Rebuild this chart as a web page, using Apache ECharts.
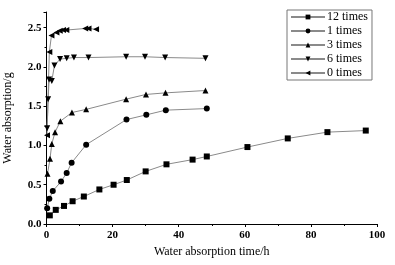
<!DOCTYPE html>
<html>
<head>
<meta charset="utf-8">
<script src="https://cdn.jsdelivr.net/npm/echarts@6/dist/echarts.min.js"></script>
<style>
	html, body { margin: 0; padding: 0; background: #fff; }
	#chart { width: 395px; height: 265px; }
</style>
</head>
<body>
<div id="chart"></div>
<script>
	// water absorption (g) vs time (h)
	const times12 = [1, 2.8, 5.3, 7.9, 11.3, 16, 20.3, 24.3, 30, 36.3, 44.2, 48.5, 60.8, 73, 85, 96.6]
	const vals12 = [0.11, 0.18, 0.23, 0.29, 0.35, 0.44, 0.5, 0.56, 0.67, 0.76, 0.82, 0.86, 0.98, 1.09, 1.17, 1.19]
	const times1 = [0.2, 0.86, 1.9, 4.4, 6.1, 7.6, 12, 24.2, 30.2, 36.1, 48.5]
	const vals1 = [0.2, 0.32, 0.42, 0.54, 0.65, 0.78, 1.01, 1.33, 1.39, 1.45, 1.47]
	const times3 = [0.3, 1.06, 1.6, 2.6, 4.2, 7.7, 12, 24.1, 30.1, 36, 48.1]
	const vals3 = [0.64, 0.83, 1.02, 1.17, 1.31, 1.42, 1.46, 1.59, 1.65, 1.67, 1.7]
	const times6 = [0.2, 0.5, 0.8, 1.6, 2.4, 4.1, 6.1, 8.3, 12.7, 24.1, 29.8, 35.9, 48.1]
	const vals6 = [1.22, 1.59, 1.84, 1.82, 2.02, 2.1, 2.11, 2.12, 2.12, 2.13, 2.13, 2.12, 2.11]
	const times0 = [0.15, 0.86, 1.5, 3, 4, 5, 6, 11.7, 12.7, 15]
	const vals0 = [1.13, 2.19, 2.4, 2.44, 2.46, 2.47, 2.47, 2.49, 2.49, 2.48]

	const xTicks = [0, 20, 40, 60, 80, 100]
	const yTicks = [0, 0.5, 1, 1.5, 2, 2.5]

	const pair = (xs, ys) => xs.map((x, i) => [x, ys[i]])
	const font = 'Liberation Serif'

	const mychart = echarts.init(document.getElementById('chart'))

	function line(name, xs, ys, symbol, rotate) {
		return {
			name: name,
			type: 'line',
			data: pair(xs, ys),
			symbol: symbol,
			symbolSize: 6,
			symbolRotate: rotate,
			showAllSymbol: true,
			lineStyle: { color: '#8a8a8a', width: 1 },
			itemStyle: { color: '#000', borderWidth: 0 },
			emphasis: { disabled: true },
			animation: false
		}
	}

	mychart.setOption({
		animation: false,
		grid: {
			left: 46.5,
			right: 18,
			top: 12,
			bottom: 41,
			containLabel: false,
			outerBoundsMode: 'none'
		},
		legend: {
			orient: 'vertical',
			left: 287,
			top: 10,
			width: 82,
			padding: [0, 4, 0, 3],
			itemWidth: 34,
			itemHeight: 6,
			itemGap: 0,
			borderColor: '#777',
			borderWidth: 1,
			borderRadius: 0,
			textStyle: { fontFamily: font, fontSize: 12, lineHeight: 14, color: '#000', padding: [0, 0, 0, -3] },
			data: ['12 times', '1 times', '3 times', '6 times', '0 times']
		},
		xAxis: {
			type: 'value',
			min: 0,
			max: 100,
			interval: 20,
			name: 'Water absorption time/h',
			nameLocation: 'middle',
			nameGap: 22,
			nameTextStyle: { fontFamily: font, fontSize: 12, color: '#000' },
			splitLine: { show: false },
			axisLine: { show: true, lineStyle: { color: '#000', width: 1 } },
			axisTick: { show: true, length: 3, lineStyle: { color: '#000' } },
			minorTick: { show: true, splitNumber: 2, length: 2, lineStyle: { color: '#000' } },
			axisLabel: {
				fontFamily: font, fontSize: 11, fontWeight: 'bold', color: '#000', margin: 6,
				formatter: v => xTicks.includes(v) ? String(v) : ''
			}
		},
		yAxis: {
			type: 'value',
			min: 0,
			max: 2.7,
			interval: 0.5,
			name: 'Water absorption/g',
			nameLocation: 'middle',
			nameGap: 33,
			nameTextStyle: { fontFamily: font, fontSize: 12, color: '#000' },
			splitLine: { show: false },
			axisLine: { show: true, lineStyle: { color: '#000', width: 1 } },
			axisTick: { show: true, length: 3, lineStyle: { color: '#000' } },
			minorTick: { show: true, splitNumber: 2, length: 2, lineStyle: { color: '#000' } },
			axisLabel: {
				fontFamily: font, fontSize: 11, fontWeight: 'bold', color: '#000', margin: 5,
				showMaxLabel: false,
				formatter: v => yTicks.some(t => Math.abs(t - v) < 1e-6) ? v.toFixed(1) : ''
			}
		},
		series: [
			line('12 times', times12, vals12, 'rect', 0),
			line('1 times', times1, vals1, 'circle', 0),
			line('3 times', times3, vals3, 'triangle', 0),
			line('6 times', times6, vals6, 'triangle', 180),
			line('0 times', times0, vals0, 'triangle', 90)
		]
	})
</script>
</body>
</html>
